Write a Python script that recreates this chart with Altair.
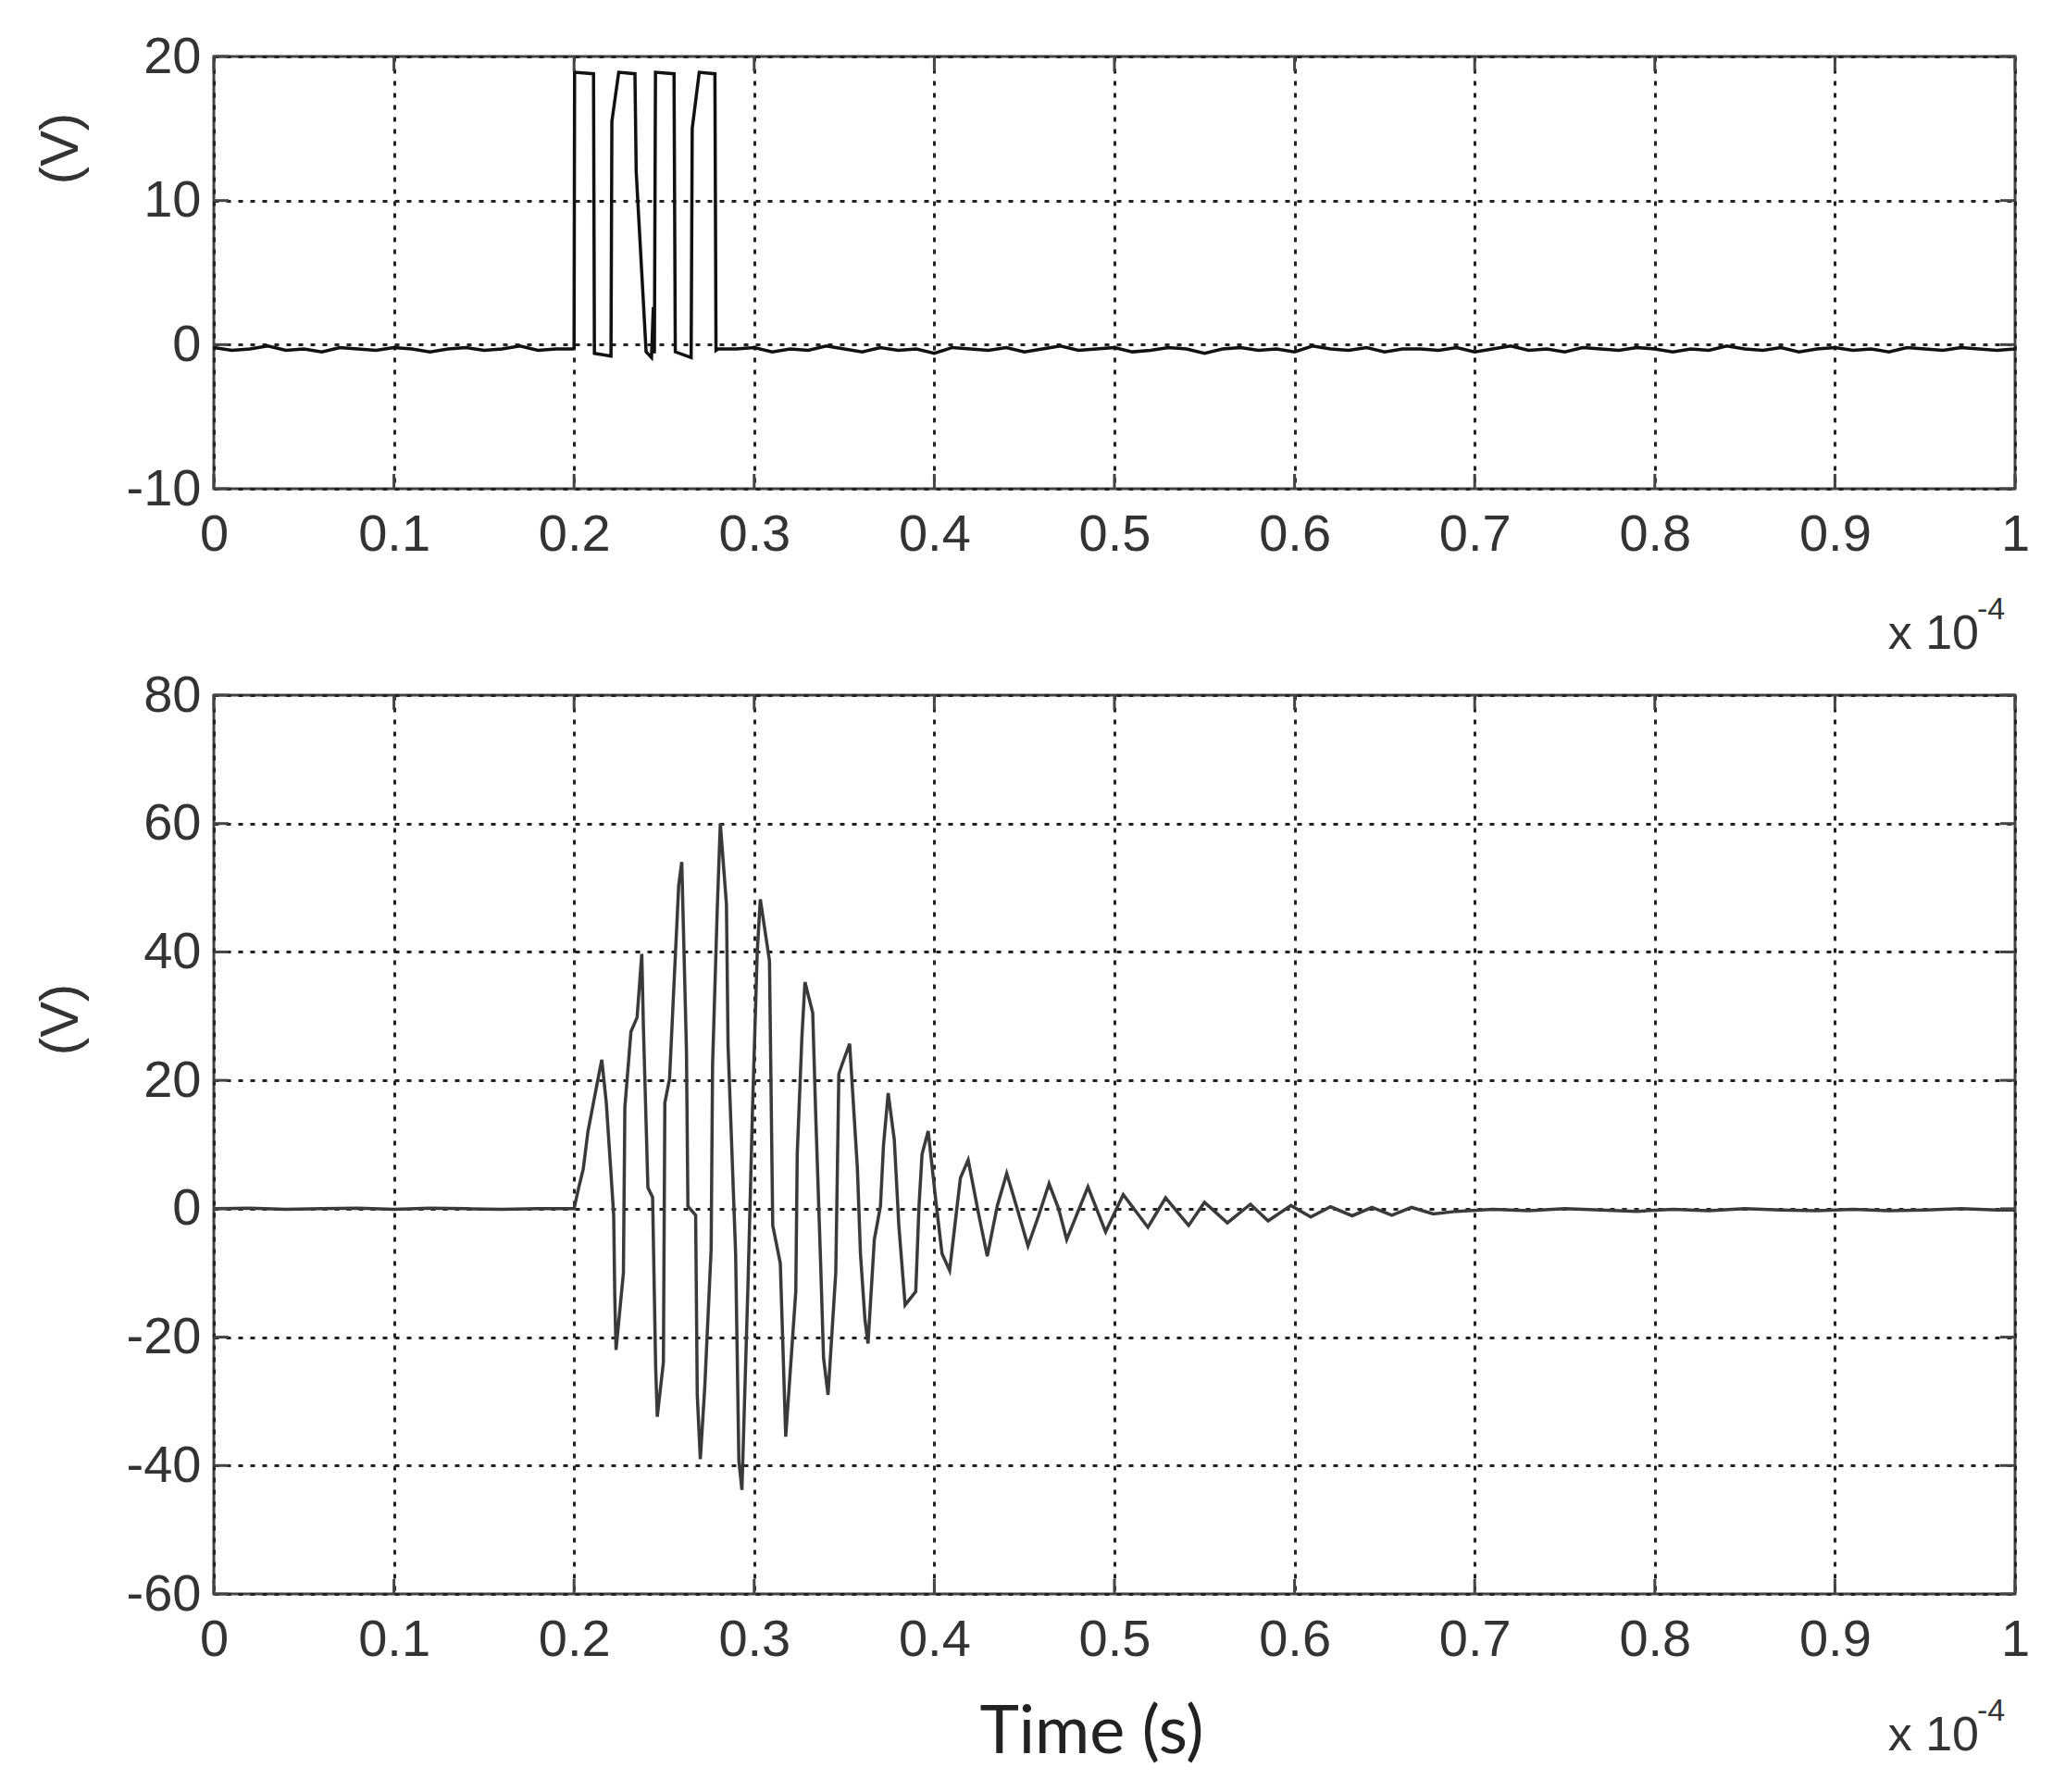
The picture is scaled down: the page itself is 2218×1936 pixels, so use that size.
import altair as alt
import pandas as pd

# ---------------- data ----------------
X_TICKS = [0, 0.1, 0.2, 0.3, 0.4, 0.5, 0.6, 0.7, 0.8, 0.9, 1]
TOP_Y_TICKS = [-10, 0, 10, 20]
BOT_Y_TICKS = [-60, -40, -20, 0, 20, 40, 60, 80]

# top trace: baseline before the burst (t = 0.00 .. 0.19, step 0.01)
top_pre_v = [-0.2, -0.4, -0.3, -0.1, -0.4, -0.3, -0.5, -0.2, -0.3, -0.4,
             -0.2, -0.3, -0.5, -0.3, -0.2, -0.4, -0.3, -0.1, -0.4, -0.3]
# top trace: pulse train
top_pulse_t = [0.1990, 0.2000, 0.2003, 0.2108, 0.2113, 0.2205, 0.2210, 0.2248,
               0.2338, 0.2345, 0.2400, 0.2430, 0.2440, 0.2446, 0.2452, 0.2555,
               0.2562, 0.2650, 0.2656, 0.2695, 0.2782, 0.2788, 0.2800]
top_pulse_v = [-0.3, -0.2, 18.9, 18.8, -0.6, -0.8, 15.5, 18.9,
               18.8, 12.0, -0.5, -0.9, 2.6, -0.6, 18.9, 18.8,
               -0.5, -0.9, 15.0, 18.9, 18.8, -0.4, -0.3]
# top trace: baseline after the burst (t = 0.29 .. 1.00, step 0.01)
top_post_v = [-0.3, -0.2, -0.5, -0.3, -0.4, -0.1, -0.3, -0.5, -0.2, -0.4,
              -0.3, -0.6, -0.2, -0.3, -0.4, -0.2, -0.5, -0.3, -0.1, -0.4,
              -0.3, -0.2, -0.5, -0.4, -0.2, -0.3, -0.6, -0.3, -0.2, -0.4,
              -0.3, -0.5, -0.1, -0.3, -0.4, -0.2, -0.5, -0.3, -0.3, -0.4,
              -0.2, -0.5, -0.3, -0.1, -0.4, -0.3, -0.5, -0.2, -0.3, -0.4,
              -0.2, -0.3, -0.5, -0.3, -0.4, -0.1, -0.3, -0.4, -0.2, -0.5,
              -0.3, -0.2, -0.4, -0.3, -0.5, -0.2, -0.3, -0.4, -0.2, -0.3,
              -0.4, -0.3]

# bottom trace: before the burst (t = 0.00 .. 0.18, step 0.02)
bot_pre_v = [0.0, 0.1, -0.1, 0.0, 0.1, -0.1, 0.1, 0.0, -0.1, 0.0]
# bottom trace: ringing response
bot_burst_t = [0.2000, 0.2026, 0.2051, 0.2077, 0.2103, 0.2128, 0.2154, 0.2179, 0.2205, 0.2220,
               0.2226, 0.2233, 0.2274, 0.2282, 0.2316, 0.2350, 0.2376, 0.2385, 0.2410, 0.2436,
               0.2453, 0.2462, 0.2496, 0.2504, 0.2530, 0.2556, 0.2581, 0.2598, 0.2624, 0.2632,
               0.2675, 0.2684, 0.2701, 0.2726, 0.2761, 0.2769, 0.2795, 0.2812, 0.2846, 0.2855,
               0.2897, 0.2915, 0.2932, 0.2966, 0.2991, 0.3017, 0.3034, 0.3085, 0.3103, 0.3145,
               0.3175, 0.3231, 0.3239, 0.3265, 0.3282, 0.3325, 0.3342, 0.3368, 0.3385, 0.3410,
               0.3453, 0.3470, 0.3487, 0.3530, 0.3573, 0.3590, 0.3615, 0.3632, 0.3667, 0.3701,
               0.3718, 0.3744, 0.3778, 0.3803, 0.3838, 0.3897, 0.3915, 0.3932, 0.3966, 0.4009,
               0.4043, 0.4085, 0.4145, 0.4188, 0.4248, 0.4294, 0.4350, 0.4402, 0.4460, 0.4520,
               0.4580, 0.4637, 0.4690, 0.4735, 0.4853, 0.4951, 0.5049, 0.5186, 0.5284, 0.5412,
               0.5500, 0.5627, 0.5755, 0.5853, 0.5980, 0.6090, 0.6200, 0.6320, 0.6430, 0.6540,
               0.6650, 0.6770]
bot_burst_v = [0.0, 3.3, 6.2, 12.0, 15.8, 19.5, 23.2, 16.5, 5.5, -1.0,
               -13.6, -22.0, -10.0, 15.8, 27.6, 29.8, 39.7, 28.3, 3.3, 1.8,
               -24.6, -32.4, -23.9, 16.5, 20.2, 35.7, 50.4, 54.0, 24.6, 0.4,
               -1.0, -29.0, -39.0, -27.6, -6.3, 22.4, 46.7, 60.0, 47.4, 25.4,
               -7.0, -39.3, -43.8, -11.4, 15.8, 40.0, 48.2, 38.6, -2.6, -8.5,
               -35.5, -12.9, 8.5, 26.8, 35.3, 30.5, 14.3, -7.7, -23.2, -29.0,
               -9.9, 21.0, 22.4, 25.7, 6.3, -7.0, -17.3, -21.0, -4.8, 0.4,
               9.9, 18.0, 10.7, -2.6, -15.0, -12.9, 0.4, 8.5, 12.1, 1.1,
               -7.0, -9.6, 4.8, 7.6, -1.1, -7.4, 0.5, 5.5, 0.0, -5.8,
               -1.0, 3.9, 0.0, -4.8, 3.4, -3.6, 2.2, -2.9, 1.7, -2.6,
               1.0, -2.2, 0.7, -1.9, 0.5, -1.3, 0.3, -1.1, 0.2, -1.0,
               0.2, -0.8]
# bottom trace: tail (t = 0.69 .. 0.99 step 0.02, then 1.00)
bot_tail_v = [-0.4, -0.1, -0.3, 0.0, -0.2, -0.4, -0.1, -0.3, 0.0, -0.2,
              -0.3, -0.1, -0.3, -0.2, 0.0, -0.2, -0.2]

# ---------------- tables ----------------
top_t = ([round(i * 0.01, 4) for i in range(len(top_pre_v))] + top_pulse_t
         + [round(0.29 + i * 0.01, 4) for i in range(len(top_post_v))])
top_v = top_pre_v + top_pulse_v + top_post_v
top_df = pd.DataFrame({"t": top_t, "v": top_v, "i": range(len(top_t))})

bot_t = ([round(i * 0.02, 4) for i in range(len(bot_pre_v))] + bot_burst_t
         + [round(0.69 + i * 0.02, 4) for i in range(len(bot_tail_v) - 1)] + [1.0])
bot_v = bot_pre_v + bot_burst_v + bot_tail_v
bot_df = pd.DataFrame({"t": bot_t, "v": bot_v, "i": range(len(bot_t))})

W = 1946
FRAME = "#444444"
TICK_LEN = 16


def panel(df, H, ydom, yticks, color, vlabel_y, show_xtitle, exp_y):
    xaxis = dict(values=X_TICKS, labelExpr="'' + datum.value", grid=True, ticks=False,
                 domain=False, labelPadding=22, labelFlush=False)
    if show_xtitle:
        xaxis.update(title="Time (s)", titleX=948, titleY=149, titleAlign="center",
                     titleBaseline="middle", titleFont="Lato", titleFontSize=72,
                     titleFontWeight="normal", titleColor="#222222")
    else:
        xaxis.update(title=None)
    X = alt.X("t:Q", scale=alt.Scale(domain=[0, 1], nice=False, zero=False),
              axis=alt.Axis(**xaxis))
    Y = alt.Y("v:Q", scale=alt.Scale(domain=ydom, nice=False, zero=False),
              axis=alt.Axis(values=yticks, labelExpr="'' + datum.value", grid=True,
                            ticks=False, domain=False,
                            labelPadding=14, title="(V)", titleX=-165, titleY=vlabel_y,
                            titleAlign="center", titleBaseline="middle",
                            titleFontSize=58, titleFontWeight="normal",
                            titleFont="Liberation Sans", titleColor="#333333"))

    line = alt.Chart(df).mark_line(color=color, strokeWidth=3.5, strokeJoin="miter").encode(
        x=X, y=Y, order="i:Q")

    xt = pd.DataFrame({"t": X_TICKS})
    yt = pd.DataFrame({"v": yticks})
    rb = alt.Chart(xt).mark_rule(color=FRAME, strokeWidth=3).encode(
        x=X, y=alt.value(H), y2=alt.value(H - TICK_LEN))
    rt = alt.Chart(xt).mark_rule(color=FRAME, strokeWidth=3).encode(
        x=X, y=alt.value(0), y2=alt.value(TICK_LEN))
    rl = alt.Chart(yt).mark_rule(color=FRAME, strokeWidth=3).encode(
        y=Y, x=alt.value(0), x2=alt.value(TICK_LEN))
    rr = alt.Chart(yt).mark_rule(color=FRAME, strokeWidth=3).encode(
        y=Y, x=alt.value(W), x2=alt.value(W - TICK_LEN))

    lab = pd.DataFrame({"s": ["x 10"], "p": ["-4"]})
    exp_txt = alt.Chart(lab).mark_text(align="right", baseline="middle", fontSize=52,
                                       font="Liberation Sans", color="#333333").encode(
        x=alt.value(1907), y=alt.value(H + exp_y), text="s:N")
    sup_txt = alt.Chart(lab).mark_text(align="left", baseline="middle", fontSize=34,
                                       font="Liberation Sans", color="#333333").encode(
        x=alt.value(1905), y=alt.value(H + exp_y - 26), text="p:N")

    return alt.layer(line, rb, rt, rl, rr, exp_txt, sup_txt).properties(width=W, height=H)


top = panel(top_df, 467, [-10, 20], TOP_Y_TICKS, "#111111", 99, False, 157)
bottom = panel(bot_df, 971, [-60, 80], BOT_Y_TICKS, "#3a3a3a", 350, True, 153)

chart = alt.vconcat(top, bottom, spacing=8).properties(
    padding={"left": 27, "top": 23, "right": 5, "bottom": 5},
    background="white",
).configure_view(
    stroke=FRAME, strokeWidth=3
).configure_axis(
    gridDash=[5, 8], gridColor="#222222", gridWidth=3, gridOpacity=1,
    labelFont="Liberation Sans", labelFontSize=56, labelColor="#333333",
)

chart.save("out.html", embed_options={"renderer": "svg", "actions": False})
